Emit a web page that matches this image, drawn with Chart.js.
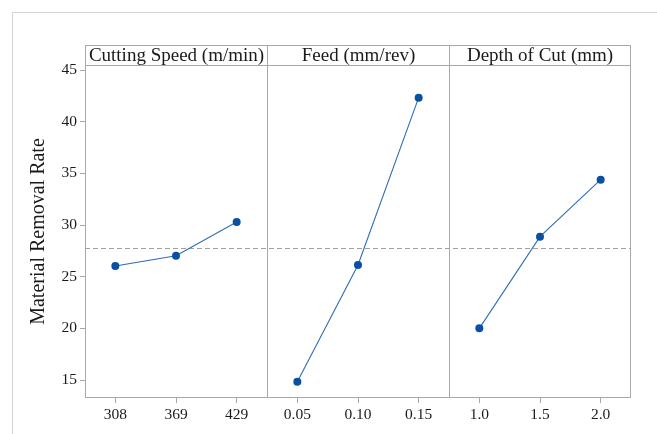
<!DOCTYPE html>
<html>
<head>
<meta charset="utf-8">
<script src="https://cdn.jsdelivr.net/npm/chart.js@4/dist/chart.umd.min.js"></script>
<style>
  html, body { margin: 0; padding: 0; background: #ffffff; }
  #wrap { width: 657px; height: 434px; position: relative; }
</style>
</head>
<body>
<div id="wrap"><canvas id="c" width="657" height="434"></canvas></div>
<script>
// ---- data ----
const factors = ['Cutting Speed (m/min)', 'Feed (mm/rev)', 'Depth of Cut (mm)'];
const cuttingSpeedLevels = ['308', '369', '429'];
const feedLevels = ['0.05', '0.10', '0.15'];
const depthLevels = ['1.0', '1.5', '2.0'];
const cuttingSpeedMRR = [26.03, 27.03, 30.30];
const feedMRR = [14.83, 26.13, 42.33];
const depthMRR = [20.00, 28.87, 34.39];
const meanMRR = 27.77;
const yTicks = [15, 20, 25, 30, 35, 40, 45];
const yTitle = 'Material Removal Rate';

// ---- build chart structures from the arrays ----
const xLabels = [].concat(cuttingSpeedLevels, feedLevels, depthLevels);
const groups = [cuttingSpeedMRR, feedMRR, depthMRR];
const nPer = 3;
const datasets = groups.map((vals, g) => {
  const d = xLabels.map(() => null);
  vals.forEach((v, i) => { d[g * nPer + i] = v; });
  return {
    data: d,
    borderColor: '#2f6db5',
    borderWidth: 1.1,
    backgroundColor: '#0a50a2',
    pointBackgroundColor: '#0a50a2',
    pointBorderWidth: 0,
    pointRadius: 4,
    spanGaps: false,
    tension: 0
  };
});

const SERIF = '"Liberation Serif", "Times New Roman", serif';
const GRID = '#a8a8a8';

const panelPlugin = {
  id: 'panelPlugin',
  beforeDraw(chart) {
    const ctx = chart.ctx;
    ctx.save();
    ctx.fillStyle = '#ffffff';
    ctx.fillRect(0, 0, chart.width, chart.height);
    // outer frame
    ctx.strokeStyle = '#d4d4d4';
    ctx.lineWidth = 1;
    ctx.beginPath();
    ctx.moveTo(12.5, chart.height);
    ctx.lineTo(12.5, 12.5);
    ctx.lineTo(chart.width, 12.5);
    ctx.stroke();
    ctx.restore();
  },
  beforeDatasetsDraw(chart) {
    const ctx = chart.ctx;
    const a = chart.chartArea;
    const xs = chart.scales.x;
    const ys = chart.scales.y;
    const headerTop = a.top - 20;
    ctx.save();
    // mean reference line
    const ym = Math.round(ys.getPixelForValue(meanMRR)) + 0.5;
    ctx.strokeStyle = '#a0a0a0';
    ctx.lineWidth = 1;
    ctx.setLineDash([5, 3]);
    ctx.beginPath();
    ctx.moveTo(a.left, ym);
    ctx.lineTo(a.right, ym);
    ctx.stroke();
    ctx.setLineDash([]);
    // frame + header box
    ctx.strokeStyle = GRID;
    ctx.lineWidth = 1;
    const L = Math.round(a.left) + 0.5, R = Math.round(a.right) - 0.5;
    const T = Math.round(a.top) + 0.5, B = Math.round(a.bottom) - 0.5;
    const HT = Math.round(headerTop) + 0.5;
    ctx.strokeRect(L, HT, R - L, B - HT);
    ctx.beginPath();
    ctx.moveTo(L, T); ctx.lineTo(R, T);
    // panel dividers
    const bounds = [L];
    for (let g = 1; g < factors.length; g++) {
      const px = Math.round(xs.getPixelForValue(g * nPer - 0.5)) + 0.5;
      bounds.push(px);
      ctx.moveTo(px, HT); ctx.lineTo(px, B);
    }
    bounds.push(R);
    ctx.stroke();
    // header texts
    ctx.fillStyle = '#1a1a1a';
    ctx.font = '19px ' + SERIF;
    ctx.textAlign = 'center';
    ctx.textBaseline = 'middle';
    factors.forEach((f, g) => {
      ctx.fillText(f, (bounds[g] + bounds[g + 1]) / 2, (HT + T) / 2 + 1);
    });
    ctx.restore();
  }
};

new Chart(document.getElementById('c'), {
  type: 'line',
  data: { labels: xLabels, datasets: datasets },
  plugins: [panelPlugin],
  options: {
    responsive: false,
    animation: false,
    events: [],
    layout: { padding: { left: 0, top: 65, right: 26, bottom: 0 } },
    plugins: { legend: { display: false }, tooltip: { enabled: false } },
    scales: {
      x: {
        type: 'category',
        offset: true,
        border: { display: false },
        grid: { display: true, drawOnChartArea: false, drawTicks: true, tickLength: 5, color: GRID, offset: false },
        ticks: { color: '#1a1a1a', font: { family: SERIF, size: 15.5 }, padding: 3, maxRotation: 0, autoSkip: false },
        afterFit(s) { s.height = 36; s.paddingLeft = 0; s.paddingRight = 0; }
      },
      y: {
        type: 'linear',
        min: 13.26,
        max: 45.49,
        border: { display: false },
        grid: { display: true, drawOnChartArea: false, drawTicks: true, tickLength: 5, color: GRID },
        ticks: { color: '#1a1a1a', font: { family: SERIF, size: 15.5 }, padding: 3 },
        afterBuildTicks(s) { s.ticks = yTicks.map(v => ({ value: v })); },
        title: { display: true, text: yTitle, color: '#1a1a1a', font: { family: SERIF, size: 20 }, padding: { top: 27, bottom: 0 } },
        afterFit(s) { s.width = 85; s.paddingTop = 0; s.paddingBottom = 0; }
      }
    }
  }
});
</script>
</body>
</html>
